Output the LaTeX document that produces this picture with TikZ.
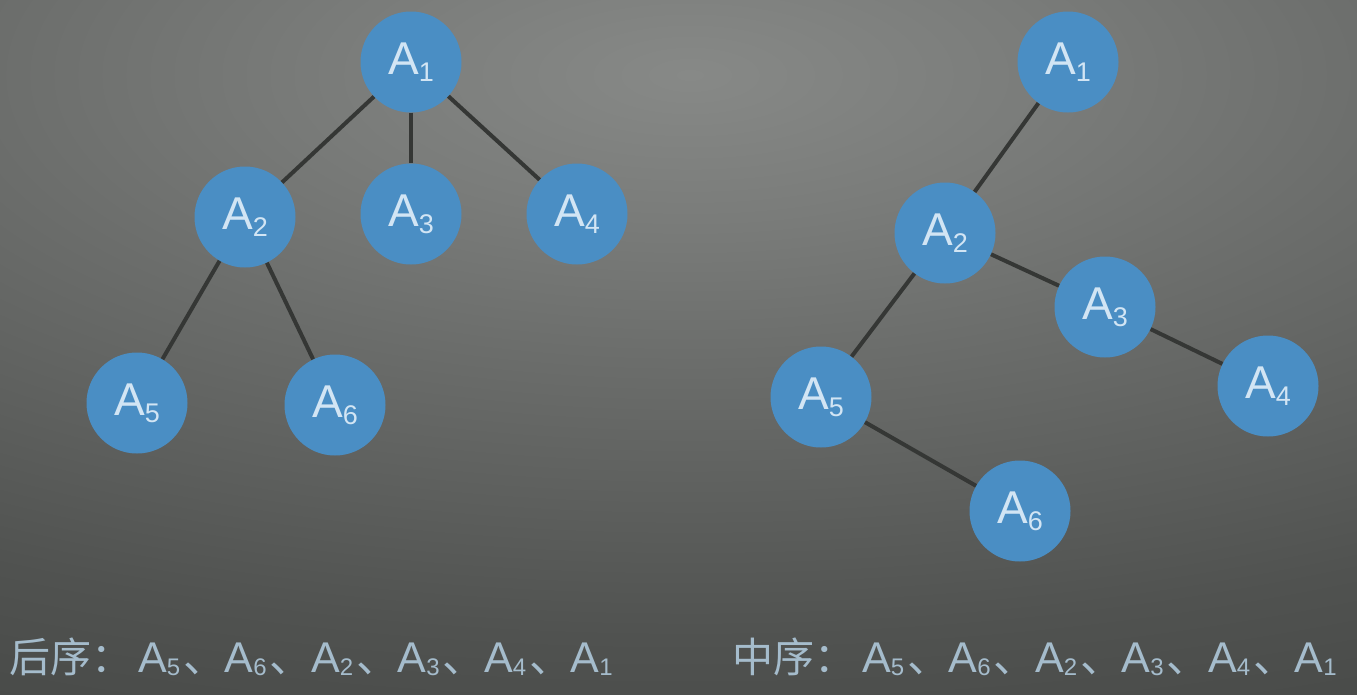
\documentclass[tikz,border=0pt]{standalone}
\usepackage{fontspec}
\setmainfont{Liberation Sans}
\newfontfamily\cjk{Noto Sans CJK SC}
\newcommand\An[1]{A\raisebox{-7pt}{\fontsize{27}{27}\selectfont #1}}
\newcommand\Bn[1]{\makebox[86.5pt][l]{A\raisebox{-3pt}{\fontsize{24}{24}\selectfont #1}\hspace{3pt}{\cjk 、}}}
\newcommand\Bl[1]{A\raisebox{-3pt}{\fontsize{24}{24}\selectfont #1}}
\definecolor{bgA}{HTML}{878987}
\definecolor{bgB}{HTML}{7A7C7A}
\definecolor{bgC}{HTML}{6B6D6B}
\definecolor{bgD}{HTML}{5D5F5D}
\definecolor{bgE}{HTML}{505250}
\definecolor{bgF}{HTML}{444644}
\definecolor{bgG}{HTML}{3C3E3C}
\definecolor{bgH}{HTML}{3A3C3A}
\pgfdeclareradialshading{bgshade}{\pgfpoint{0bp}{0bp}}{%
  color(0bp)=(bgA); color(4.5bp)=(bgB); color(9bp)=(bgC); color(13.5bp)=(bgD);
  color(17.6bp)=(bgE); color(24bp)=(bgF); color(31bp)=(bgG); color(50bp)=(bgH)}
\definecolor{nodefill}{HTML}{4A8EC4}
\definecolor{nodetext}{HTML}{D2E5F4}
\definecolor{edgecol}{HTML}{353735}
\definecolor{captext}{HTML}{A5BCCC}
\tikzset{
  tnode/.style={circle, fill=nodefill, minimum size=101pt, inner sep=0pt,
    text=nodetext, font=\fontsize{46}{46}\selectfont},
  edge/.style={draw=edgecol, line width=4pt},
  caption/.style={anchor=base west, inner sep=0pt, text=captext,
    font=\fontsize{43}{43}\selectfont},
  captitle/.style={caption, font=\cjk\fontsize{41}{41}\selectfont}
}
\begin{document}
\begin{tikzpicture}[x=1pt,y=-1pt]
\useasboundingbox (0,0) rectangle (1357,694);
\begin{scope}
\clip (0,0) rectangle (1357,694);
\shade[shading=bgshade] (690,75) ellipse [x radius=2000, y radius=800];
\end{scope}
% left tree
\node[tnode] (l1) at (411,62) {\An{1}};
\node[tnode] (l2) at (245,217) {\An{2}};
\node[tnode] (l3) at (411,214) {\An{3}};
\node[tnode] (l4) at (577,214) {\An{4}};
\node[tnode] (l5) at (137,403) {\An{5}};
\node[tnode] (l6) at (335,405) {\An{6}};
\draw[edge] (l1) -- (l2);
\draw[edge] (l1) -- (l3);
\draw[edge] (l1) -- (l4);
\draw[edge] (l2) -- (l5);
\draw[edge] (l2) -- (l6);
% right tree
\node[tnode] (r1) at (1068,62) {\An{1}};
\node[tnode] (r2) at (945,233) {\An{2}};
\node[tnode] (r3) at (1105,307) {\An{3}};
\node[tnode] (r4) at (1268,386) {\An{4}};
\node[tnode] (r5) at (821,397) {\An{5}};
\node[tnode] (r6) at (1020,511) {\An{6}};
\draw[edge] (r1) -- (r2);
\draw[edge] (r2) -- (r3);
\draw[edge] (r3) -- (r4);
\draw[edge] (r2) -- (r5);
\draw[edge] (r5) -- (r6);
% captions
\node[captitle] (capLt) at (9,672) {后序：};
\node[caption] (capL) at (138,672) {\Bn{5}\Bn{6}\Bn{2}\Bn{3}\Bn{4}\Bl{1}};
\node[captitle] (capRt) at (732,672) {中序：};
\node[caption] (capR) at (862,672) {\Bn{5}\Bn{6}\Bn{2}\Bn{3}\Bn{4}\Bl{1}};
\end{tikzpicture}
\end{document}
